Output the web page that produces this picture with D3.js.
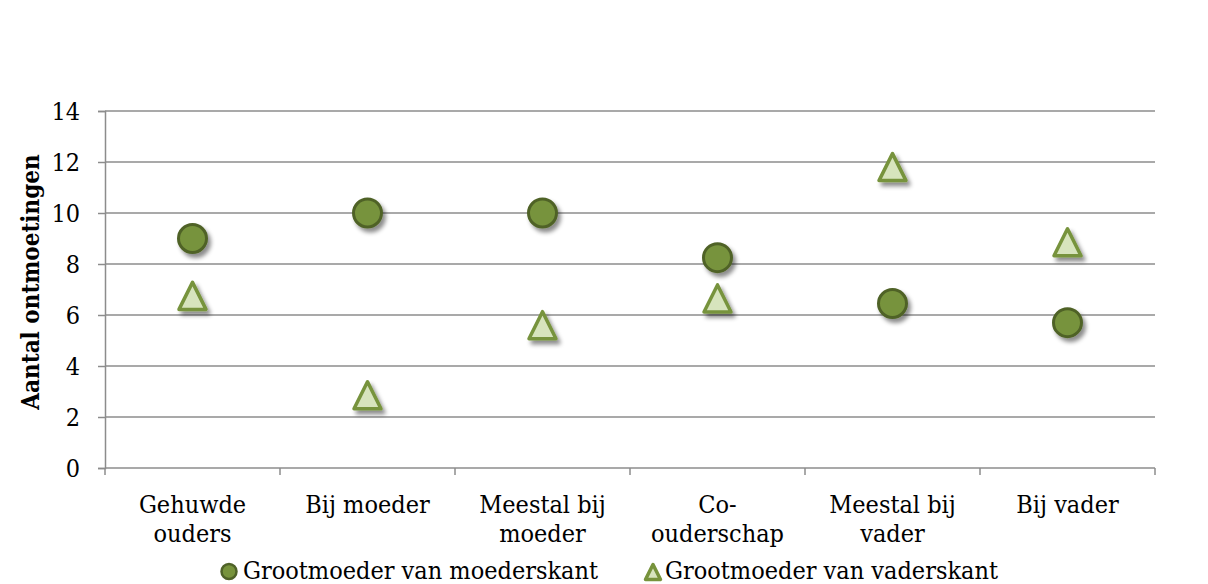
<!DOCTYPE html>
<html>
<head>
<meta charset="utf-8">
<script src="https://cdn.jsdelivr.net/npm/d3@7"></script>
<style>
  body { margin: 0; background: #fff; }
  text { font-family: "DejaVu Serif Condensed", "DejaVu Serif", serif; fill: #000; }
</style>
</head>
<body>
<svg id="chart" width="1208" height="584"></svg>
<script>
// categories, split over two lines the way the labels wrap
var categories = ['Gehuwde\nouders', 'Bij moeder', 'Meestal bij\nmoeder', 'Co-\nouderschap', 'Meestal bij\nvader', 'Bij vader'];
var seriesNames = ['Grootmoeder van moederskant', 'Grootmoeder van vaderskant'];
var moederskant = [9, 10, 10, 8.25, 6.45, 5.7];
var vaderskant = [6.75, 2.85, 5.6, 6.65, 11.8, 8.85];
var yTicks = [0, 2, 4, 6, 8, 10, 12, 14];

var FONT = '"DejaVu Serif Condensed", "DejaVu Serif", serif';
var svg = d3.select('#chart');
var plot = {l: 105, r: 1155, t: 111, b: 468};

var x = d3.scaleBand().domain(categories).range([plot.l, plot.r]);
var y = d3.scaleLinear().domain([0, 14]).range([plot.b, plot.t]);

// Excel's triangle marker is about as tall as it is wide
var tallTriangle = {
    draw: function(ctx, size) {
        var s = Math.sqrt(size);
        ctx.moveTo(0, -s / 2);
        ctx.lineTo(s / 2, s / 2);
        ctx.lineTo(-s / 2, s / 2);
        ctx.closePath();
    }
};

// drop shadow for the markers
var defs = svg.append('defs');
var f = defs.append('filter').attr('id', 'shadow')
    .attr('x', '-50%').attr('y', '-50%').attr('width', '200%').attr('height', '200%');
f.append('feDropShadow').attr('dx', 3).attr('dy', 4).attr('stdDeviation', 2.2)
    .attr('flood-color', '#000').attr('flood-opacity', 0.45);

// gridlines
svg.append('g').selectAll('line')
    .data(yTicks.filter(function(d) { return d > 0; }))
    .enter().append('line')
    .attr('x1', plot.l).attr('x2', plot.r)
    .attr('y1', function(d) { return y(d); })
    .attr('y2', function(d) { return y(d); })
    .attr('stroke', '#8c8c8c').attr('stroke-width', 1.5);

// y axis
var yAxis = svg.append('g')
    .attr('transform', 'translate(' + plot.l + ',0)')
    .call(d3.axisLeft(y).tickValues(yTicks).tickSize(7).tickPadding(18));
yAxis.select('.domain').attr('stroke', '#8c8c8c').attr('stroke-width', 1.5);
yAxis.selectAll('.tick line').attr('stroke', '#8c8c8c').attr('stroke-width', 1.5);
yAxis.selectAll('text').style('font-size', '25px').style('font-family', FONT);

// x axis, ticks on the band edges
var edges = categories.map(function(c) { return x(c); }).concat([plot.r]);
var xAxisG = svg.append('g');
xAxisG.append('line')
    .attr('x1', plot.l).attr('x2', plot.r).attr('y1', plot.b).attr('y2', plot.b)
    .attr('stroke', '#8c8c8c').attr('stroke-width', 1.5);
xAxisG.selectAll('.edge').data(edges).enter().append('line')
    .attr('x1', function(d) { return d; }).attr('x2', function(d) { return d; })
    .attr('y1', plot.b).attr('y2', plot.b + 7)
    .attr('stroke', '#8c8c8c').attr('stroke-width', 1.5);

var labels = xAxisG.selectAll('.lbl').data(categories).enter().append('text')
    .attr('text-anchor', 'middle')
    .attr('x', function(d) { return x(d) + x.bandwidth() / 2; })
    .attr('y', 513)
    .style('font-size', '25px');
labels.each(function(d) {
    var t = d3.select(this);
    d.split('\n').forEach(function(line, i) {
        t.append('tspan').attr('x', x(d) + x.bandwidth() / 2).attr('dy', i ? 29 : 0).text(line);
    });
});

// y title
svg.append('text')
    .attr('transform', 'translate(39,282) rotate(-90)')
    .attr('text-anchor', 'middle')
    .style('font-size', '24px').style('font-weight', 'bold')
    .text('Aantal ontmoetingen');

// series: circles
svg.append('g').selectAll('circle').data(moederskant).enter().append('circle')
    .attr('cx', function(d, i) { return x(categories[i]) + x.bandwidth() / 2; })
    .attr('cy', function(d) { return y(d); })
    .attr('r', 14)
    .attr('fill', '#77933c').attr('stroke', '#4f6228').attr('stroke-width', 3)
    .attr('filter', 'url(#shadow)');

// series: triangles
svg.append('g').selectAll('path').data(vaderskant).enter().append('path')
    .attr('d', d3.symbol().type(tallTriangle).size(27 * 27))
    .attr('transform', function(d, i) {
        return 'translate(' + (x(categories[i]) + x.bandwidth() / 2) + ',' + y(d) + ')';
    })
    .attr('fill', '#d7e4bd').attr('stroke', '#77933c').attr('stroke-width', 3.5)
    .attr('stroke-linejoin', 'round')
    .attr('filter', 'url(#shadow)');

// legend
var legend = svg.append('g');
legend.append('circle').attr('cx', 229).attr('cy', 571.5).attr('r', 7.5)
    .attr('fill', '#77933c').attr('stroke', '#4f6228').attr('stroke-width', 2.5);
legend.append('text').attr('x', 243).attr('y', 579).style('font-size', '25px').text(seriesNames[0]);
legend.append('path').attr('d', d3.symbol().type(tallTriangle).size(15 * 15))
    .attr('transform', 'translate(653,572)')
    .attr('fill', '#d7e4bd').attr('stroke', '#77933c').attr('stroke-width', 3.5)
    .attr('stroke-linejoin', 'round');
legend.append('text').attr('x', 665).attr('y', 579).style('font-size', '25px').text(seriesNames[1]);
</script>
</body>
</html>
